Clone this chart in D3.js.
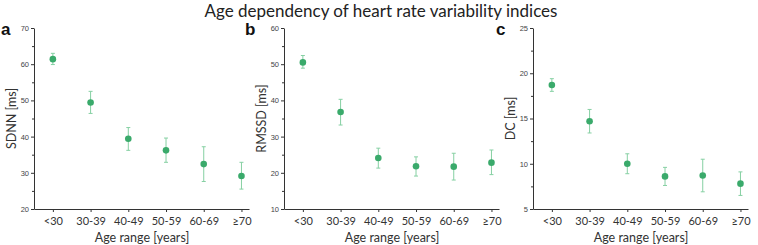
<!DOCTYPE html>
<html>
<head>
<meta charset="utf-8">
<script src="https://cdn.jsdelivr.net/npm/d3@7"></script>
<style>
  body { margin: 0; background: #fff; }
  svg { display: block; }
</style>
</head>
<body>
<svg id="chart"></svg>
<script>
// Age groups (x categories)
const categories = ["<30", "30-39", "40-49", "50-59", "60-69", "\u226570"];

// SDNN [ms]
const sdnnMean = [61.4, 49.4, 39.4, 36.2, 32.4, 29.1];
const sdnnLow  = [59.9, 46.4, 36.2, 32.9, 27.6, 25.5];
const sdnnHigh = [63.0, 52.5, 42.5, 39.6, 37.2, 32.9];

// RMSSD [ms]
const rmssdMean = [50.5, 36.8, 24.1, 21.8, 21.7, 22.8];
const rmssdLow  = [48.9, 33.2, 21.3, 19.1, 18.0, 19.5];
const rmssdHigh = [52.4, 40.3, 26.8, 24.4, 25.4, 26.3];

// DC [ms]
const dcMean = [18.7, 14.7, 10.0, 8.6, 8.7, 7.8];
const dcLow  = [18.0, 13.4, 8.9, 7.6, 6.9, 6.5];
const dcHigh = [19.4, 16.0, 11.1, 9.6, 10.5, 9.1];

// y axis ticks per panel
const sdnnTicks = [20, 30, 40, 50, 60, 70];
const rmssdTicks = [10, 20, 30, 40, 50, 60];
const dcTicks = [5, 10, 15, 20, 25];

const W = 758, H = 245;
const plotTop = 28, plotBottom = 209;
const plotW = 215;

const dotColor = "#3aaa6b";
const barColor = "#86d0a3";
const axisColor = "#333";

const svg = d3.select("#chart").attr("width", W).attr("height", H);

// Title
svg.append("text")
    .attr("x", 381)
    .attr("y", 17)
    .attr("text-anchor", "middle")
    .style("font-family", "Lato, sans-serif")
    .style("font-size", "17px")
    .style("fill", "#222")
    .text("Age dependency of heart rate variability indices");

const panels = [
    {letter: "a", x0: 34, letterX: 1, label: "SDNN [ms]", ticks: sdnnTicks, mean: sdnnMean, low: sdnnLow, high: sdnnHigh},
    {letter: "b", x0: 284, letterX: 245, label: "RMSSD [ms]", ticks: rmssdTicks, mean: rmssdMean, low: rmssdLow, high: rmssdHigh},
    {letter: "c", x0: 533, letterX: 496, label: "DC [ms]", ticks: dcTicks, mean: dcMean, low: dcLow, high: dcHigh}
];

panels.forEach(p => {
    const g = svg.append("g");

    const x = d3.scaleLinear()
        .domain([0.5, 6.2])
        .range([p.x0, p.x0 + plotW]);

    const y = d3.scaleLinear()
        .domain(d3.extent(p.ticks))
        .range([plotBottom, plotTop]);

    // minor ticks halfway between majors
    const step = p.ticks[1] - p.ticks[0];
    const minor = p.ticks.slice(0, -1).map(t => t + step / 2);

    // minor y ticks
    g.append("g")
        .attr("transform", `translate(${p.x0},0)`)
        .call(d3.axisLeft(y).tickValues(minor).tickSize(2).tickSizeOuter(0).tickFormat(""))
        .call(a => a.select(".domain").remove())
        .call(a => a.selectAll("line").attr("stroke", axisColor));

    // major y axis
    const ya = g.append("g")
        .attr("transform", `translate(${p.x0},0)`)
        .call(d3.axisLeft(y).tickValues(p.ticks).tickSize(3).tickSizeOuter(0).tickPadding(2));
    ya.select(".domain").attr("stroke", axisColor);
    ya.selectAll("line").attr("stroke", axisColor);
    ya.selectAll("text")
        .style("font-family", "'Liberation Sans', Arial, sans-serif")
        .style("font-size", "7.5px")
        .style("fill", "#444");

    // x axis
    const xa = g.append("g")
        .attr("transform", `translate(0,${plotBottom})`)
        .call(d3.axisBottom(x).tickValues([1, 2, 3, 4, 5, 6]).tickSize(3).tickSizeOuter(0).tickPadding(5)
            .tickFormat(i => categories[i - 1]));
    xa.select(".domain").attr("stroke", axisColor);
    xa.selectAll("line").attr("stroke", axisColor);
    xa.selectAll("text")
        .style("font-family", "Lato, sans-serif")
        .style("font-size", "11px")
        .style("fill", "#333");

    // x axis title
    g.append("text")
        .attr("x", p.x0 + 108)
        .attr("y", 242)
        .attr("text-anchor", "middle")
        .style("font-family", "Lato, sans-serif")
        .style("font-size", "12.5px")
        .style("fill", "#333")
        .text("Age range [years]");

    // y axis title
    g.append("text")
        .attr("transform", `translate(${p.x0 - 18},${(plotTop + plotBottom) / 2}) rotate(-90)`)
        .attr("text-anchor", "middle")
        .style("font-family", "Lato, sans-serif")
        .style("font-size", "12.5px")
        .style("fill", "#333")
        .text(p.label);

    // panel letter
    svg.append("text")
        .attr("x", p.letterX)
        .attr("y", 35)
        .style("font-family", "'Liberation Sans', Arial, sans-serif")
        .style("font-weight", "bold")
        .style("font-size", "17px")
        .style("fill", "#111")
        .text(p.letter);

    const rows = categories.map((c, i) => ({i: i + 1, mean: p.mean[i], low: p.low[i], high: p.high[i]}));

    // error bars
    const eb = g.selectAll(".eb").data(rows).enter().append("g");
    eb.append("line")
        .attr("x1", d => x(d.i)).attr("x2", d => x(d.i))
        .attr("y1", d => y(d.low)).attr("y2", d => y(d.high))
        .attr("stroke", barColor).attr("stroke-width", 1);
    eb.append("line")
        .attr("x1", d => x(d.i) - 2).attr("x2", d => x(d.i) + 2)
        .attr("y1", d => y(d.low)).attr("y2", d => y(d.low))
        .attr("stroke", barColor).attr("stroke-width", 1);
    eb.append("line")
        .attr("x1", d => x(d.i) - 2).attr("x2", d => x(d.i) + 2)
        .attr("y1", d => y(d.high)).attr("y2", d => y(d.high))
        .attr("stroke", barColor).attr("stroke-width", 1);

    // mean points
    g.selectAll(".dot").data(rows).enter().append("circle")
        .attr("cx", d => x(d.i))
        .attr("cy", d => y(d.mean))
        .attr("r", 3.3)
        .attr("fill", dotColor);
});
</script>
</body>
</html>
